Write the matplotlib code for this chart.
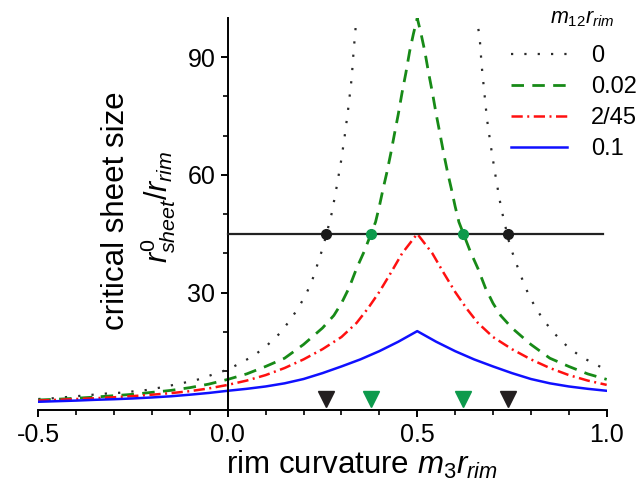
import numpy as np
import matplotlib
matplotlib.use("Agg")
import matplotlib.pyplot as plt
from matplotlib.ticker import FixedLocator

plt.rcParams['font.family'] = ['Liberation Sans', 'DejaVu Sans']
plt.rcParams['mathtext.fontset'] = 'custom'
plt.rcParams['mathtext.rm'] = 'Liberation Sans'
plt.rcParams['mathtext.it'] = 'Liberation Sans:italic'
plt.rcParams['axes.unicode_minus'] = False

# m12*r_rim = 0 (diverges at 0.5, two branches split by nan)
x_m0 = [-0.5, -0.46, -0.39, -0.32, -0.284, -0.214, -0.179, -0.143, -0.108, -0.073,
        -0.038, 0.0, 0.032, 0.068, 0.103, 0.138, 0.166, 0.188, 0.208, 0.223, 0.235,
        0.247, 0.259, 0.275, 0.288, 0.300, 0.310, 0.319, 0.327, 0.332, 0.338, 0.342,
        np.nan,
        0.658, 0.660, 0.665, 0.670, 0.677, 0.684, 0.694, 0.705, 0.717, 0.724, 0.741,
        0.752, 0.765, 0.778, 0.793, 0.811, 0.834, 0.863, 0.897, 0.932, 0.967, 1.0]
y_m0 = [2.9, 3.1, 3.7, 4.3, 4.5, 5.2, 5.8, 6.5, 7.2, 8.0,
        9.2, 10.4, 12.0, 13.9, 16.5, 19.7, 23.2, 26.4, 29.9, 33.2, 36.7,
        40.3, 44.3, 50.5, 57.3, 64.1, 70.9, 77.8, 84.7, 91.4, 98.2, 104.0,
        np.nan,
        104.0, 98.1, 94.7, 87.9, 81.1, 74.3, 67.5, 60.7, 53.9, 50.5, 43.4,
        40.0, 36.5, 33.2, 29.7, 26.4, 22.9, 19.5, 16.2, 13.7, 11.9, 10.3]

# m12*r_rim = 0.02
x_m002 = [-0.5, -0.45, -0.4, -0.35, -0.3, -0.25, -0.2, -0.15, -0.1, -0.05, 0.0,
          0.05, 0.1, 0.15, 0.2, 0.25, 0.28, 0.3, 0.32, 0.34, 0.36, 0.378,
          0.39, 0.4, 0.41, 0.42, 0.43, 0.44, 0.45, 0.46, 0.47, 0.48, 0.49, 0.5,
          0.51, 0.52, 0.53, 0.54, 0.55, 0.56, 0.57, 0.58, 0.59, 0.6, 0.61, 0.622,
          0.64, 0.66, 0.68, 0.7, 0.72, 0.75, 0.8, 0.85, 0.9, 0.95, 1.0]
y_m002 = [2.65, 2.85, 3.1, 3.4, 3.75, 4.1, 4.6, 5.1, 5.8, 6.7, 7.9,
          9.3, 11.2, 13.3, 16.8, 21.0, 24.2, 27.3, 31.2, 36.2, 40.5, 45.0,
          48.0, 52.0, 56.5, 60.7, 65.4, 70.5, 75.5, 81.0, 86.0, 91.5, 96.0, 100.0,
          96.0, 91.5, 86.0, 81.0, 75.5, 70.5, 65.4, 60.7, 56.5, 52.0, 48.0, 45.0,
          40.5, 36.2, 31.2, 27.3, 24.2, 21.0, 16.8, 13.3, 11.2, 9.3, 7.9]

# m12*r_rim = 2/45
x_m245 = [-0.5, -0.45, -0.4, -0.35, -0.3, -0.25, -0.2, -0.15, -0.1, -0.05, 0.0,
          0.05, 0.1, 0.15, 0.2, 0.25, 0.3, 0.34, 0.37, 0.4, 0.43, 0.46, 0.48, 0.5,
          0.52, 0.54, 0.57, 0.6, 0.63, 0.66, 0.7, 0.75, 0.8, 0.85, 0.9, 0.95, 1.0]
y_m245 = [2.5, 2.7, 2.9, 3.1, 3.35, 3.65, 4.0, 4.4, 4.9, 5.6, 6.5,
          7.6, 9.0, 10.8, 13.0, 15.6, 18.7, 22.3, 26.0, 30.2, 35.0, 40.0, 42.5, 45.0,
          42.5, 40.0, 35.0, 30.2, 26.0, 22.3, 18.7, 15.6, 13.0, 10.8, 9.0, 7.6, 6.5]

# m12*r_rim = 0.1
x_m01 = [-0.5, -0.45, -0.4, -0.35, -0.3, -0.25, -0.2, -0.15, -0.1, -0.05, 0.0,
         0.05, 0.1, 0.15, 0.2, 0.25, 0.3, 0.35, 0.4, 0.45, 0.5,
         0.55, 0.6, 0.65, 0.7, 0.75, 0.8, 0.85, 0.9, 0.95, 1.0]
y_m01 = [2.2, 2.35, 2.5, 2.7, 2.85, 3.05, 3.3, 3.6, 4.0, 4.45, 5.0,
         5.5, 6.1, 6.9, 8.0, 9.5, 11.2, 13.0, 15.1, 17.5, 20.2,
         17.5, 15.1, 13.0, 11.2, 9.5, 8.0, 6.9, 6.1, 5.5, 5.0]

# reference level and its crossings
level = 45
level_x = [0.0, 0.99]
cross_black = [0.26, 0.74]
cross_green = [0.378, 0.622]
tri_y = 3.0

legend_labels = ['0', '0.02', '2/45', '0.1']

W, H = 641, 495
fig = plt.figure(figsize=(W / 100, H / 100), dpi=100)
ax = fig.add_axes([38.3 / W, 1 - 410.4 / H, (606.7 - 38.3) / W, (410.4 - 18) / H])

c_black = '#2b2b2b'
c_green = '#178a17'
c_green_mk = '#0d9a4c'
c_red = '#ff1010'
c_blue = '#1010ff'

ax.plot(x_m0, y_m0, color=c_black, lw=1.6, ls=(0, (1, 5)), label=legend_labels[0])
ax.plot(x_m002, y_m002, color=c_green, lw=2.0, ls=(0, (4.5, 3)), label=legend_labels[1])
ax.plot(x_m245, y_m245, color=c_red, lw=1.8, ls=(0, (4.5, 1.8, 0.8, 1.8)), label=legend_labels[2])
ax.plot(x_m01, y_m01, color=c_blue, lw=1.8, label=legend_labels[3])

ax.plot(level_x, [level, level], color='#222222', lw=1.6, zorder=3)
ax.plot(cross_black, [level] * 2, 'o', color='#1a1a1a', ms=7, zorder=4)
ax.plot(cross_green, [level] * 2, 'o', color=c_green_mk, ms=7, zorder=4)
ax.plot(cross_black, [tri_y] * 2, 'v', color='#231f20', ms=12, clip_on=False, zorder=4)
ax.plot(cross_green, [tri_y] * 2, 'v', color=c_green_mk, ms=12, clip_on=False, zorder=4)

ax.set_xlim(-0.5, 1.0)
ax.set_ylim(0, 100)
ax.spines['top'].set_visible(False)
ax.spines['right'].set_visible(False)
ax.spines['left'].set_position(('data', 0))
for s in ('left', 'bottom'):
    ax.spines[s].set_linewidth(1.4)

ax.set_xticks([-0.5, 0.0, 0.5, 1.0])
ax.set_xticklabels(['-0.5', '0.0', '0.5', '1.0'])
ax.xaxis.set_minor_locator(FixedLocator(np.arange(-0.4, 1.0, 0.1)))
ax.set_yticks([30, 60, 90])
ax.yaxis.set_minor_locator(FixedLocator([10, 20, 40, 50, 70, 80]))
ax.tick_params(which='major', direction='out', length=5, width=1.4, labelsize=18, pad=4)
ax.tick_params(which='minor', direction='out', length=3.5, width=1.2)

fig.text(362 / W, 1 - 465 / H, 'rim curvature $m_3r_{rim}$', fontsize=22.5,
         ha='center', va='center')
fig.text(116 / W, 1 - 211 / H, 'critical sheet size', fontsize=22.5,
         rotation=90, ha='center', va='center')
fig.text(158 / W, 1 - 207 / H, r'$r^0_{sheet}/r_{rim}$', fontsize=22,
         rotation=90, ha='center', va='center')

fig.text(582 / W, 1 - 19 / H, '$m_{12}r_{rim}$', fontsize=15.5, ha='center', va='center')
ax.legend(loc='upper right', bbox_to_anchor=(637 / W, 1 - 45 / H),
          bbox_transform=fig.transFigure, frameon=False, fontsize=17,
          handlelength=2.4, handletextpad=1.0, labelspacing=0.38,
          borderpad=0, borderaxespad=0)

fig.savefig('out.png', dpi=100)
